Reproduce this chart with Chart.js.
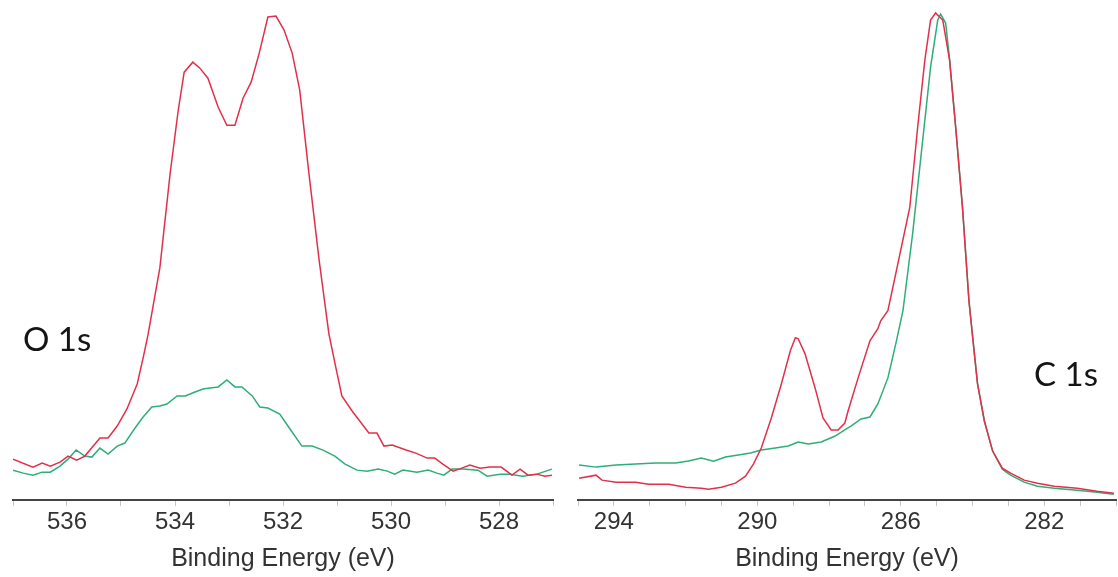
<!DOCTYPE html>
<html>
<head>
<meta charset="utf-8">
<script src="https://cdn.jsdelivr.net/npm/chart.js@4"></script>
<style>
  body { margin: 0; background: #fff; }
  #wrap { position: relative; width: 1118px; height: 577px; overflow: hidden; background: #fff; }
  .panel { position: absolute; top: 0; }
  .tag { position: absolute; font-family: Lato, "Open Sans", sans-serif; font-size: 33px; line-height: 33px; color: #151515; white-space: nowrap; }
</style>
</head>
<body>
<div id="wrap">
  <div class="panel" style="left:0px;width:560px;height:577px"><canvas id="chartO" width="560" height="577"></canvas></div>
  <div class="panel" style="left:565px;width:553px;height:577px"><canvas id="chartC" width="553" height="577"></canvas></div>
  <div class="tag" style="left:23px;top:322px">O 1s</div>
  <div class="tag" style="left:1034px;top:357px">C 1s</div>
</div>
<script>
// O 1s, red trace (binding energy eV, intensity arb.)
var o1sRedE = [537.00, 536.63, 536.46, 536.31, 536.13, 535.98, 535.82, 535.67, 535.39, 535.24,
  535.07, 534.89, 534.70, 534.59, 534.50, 534.28, 534.09, 533.94, 533.83, 533.67,
  533.54, 533.39, 533.20, 533.04, 532.89, 532.74, 532.59, 532.44, 532.28, 532.13,
  531.98, 531.83, 531.69, 531.52, 531.33, 531.15, 531.02, 530.91, 530.72, 530.41,
  530.26, 530.13, 529.98, 529.72, 529.54, 529.33, 529.19, 529.04, 528.85, 528.69,
  528.54, 528.35, 528.17, 527.96, 527.76, 527.61, 527.46, 527.30, 527.15, 527.02];
var o1sRedI = [41, 33, 37, 34, 38, 44, 40, 44, 62, 62,
  74, 91, 116, 142, 165, 232, 326, 389, 427, 437,
  431, 421, 392, 374, 374, 401, 417, 446, 482, 483,
  469, 446, 409, 326, 239, 166, 132, 104, 89, 67,
  67, 54, 55, 50, 47, 42, 42, 36, 29, 32,
  35, 32, 33, 33, 25, 31, 25, 26, 24, 25];

// O 1s, green trace
var o1sGreenE = [537.00, 536.81, 536.63, 536.46, 536.31, 536.13, 535.98, 535.83, 535.67, 535.54,
  535.39, 535.24, 535.07, 534.93, 534.74, 534.59, 534.43, 534.28, 534.15, 533.96,
  533.81, 533.63, 533.48, 533.35, 533.20, 533.04, 532.89, 532.76, 532.57, 532.43,
  532.28, 532.06, 531.87, 531.65, 531.46, 531.26, 531.04, 530.85, 530.63, 530.44,
  530.24, 530.07, 529.93, 529.78, 529.52, 529.31, 529.15, 529.02, 528.87, 528.67,
  528.39, 528.22, 527.98, 527.80, 527.56, 527.30, 527.02];
var o1sGreenI = [30, 27, 25, 28, 28, 34, 41, 50, 44, 43,
  52, 46, 54, 57, 72, 83, 93, 94, 96, 104,
  104, 108, 111, 112, 113, 120, 113, 113, 104, 93,
  92, 86, 71, 54, 54, 50, 44, 36, 30, 29,
  31, 29, 26, 30, 28, 30, 27, 25, 31, 31,
  30, 24, 26, 26, 24, 26, 31];

// C 1s, red trace
var c1sRedE = [294.97, 294.50, 294.33, 293.94, 293.39, 293.03, 292.47, 292.00, 291.56, 291.36,
  291.00, 290.61, 290.33, 290.11, 289.89, 289.61, 289.33, 289.08, 288.94, 288.86,
  288.67, 288.39, 288.17, 287.94, 287.75, 287.56, 287.47, 287.19, 286.86, 286.64,
  286.56, 286.36, 286.14, 285.75, 285.53, 285.33, 285.17, 285.03, 284.83, 284.64,
  284.47, 284.28, 284.10, 283.96, 283.86, 283.67, 283.44, 283.17, 282.94, 282.56,
  282.19, 281.72, 281.08, 280.53, 280.06];
var c1sRedI = [22, 25, 20, 18, 18, 16, 16, 13, 12, 11,
  13, 17, 24, 36, 52, 82, 116, 149, 162, 161,
  146, 112, 82, 70, 70, 77, 89, 122, 159, 171,
  179, 189, 226, 292, 372, 439, 479, 486, 479, 439,
  372, 292, 199, 150, 116, 79, 49, 32, 27, 20,
  17, 14, 12, 9, 7];

// C 1s, green trace
var c1sGreenE = [294.97, 294.50, 293.94, 293.39, 292.83, 292.28, 291.92, 291.56, 291.22, 290.89,
  290.53, 290.19, 289.89, 289.50, 289.14, 288.86, 288.58, 288.22, 287.83, 287.53,
  287.39, 287.11, 286.86, 286.64, 286.36, 286.14, 285.94, 285.67, 285.39, 285.17,
  284.97, 284.89, 284.75, 284.64, 284.47, 284.28, 284.10, 283.96, 283.86, 283.67,
  283.44, 283.17, 282.94, 282.56, 282.19, 281.72, 281.08, 280.53, 280.06];
var c1sGreenI = [35, 33, 35, 36, 37, 37, 39, 42, 39, 43,
  45, 47, 50, 52, 54, 58, 56, 58, 64, 71,
  74, 81, 83, 96, 122, 156, 189, 266, 359, 432,
  479, 485, 476, 440, 372, 292, 199, 150, 116, 79,
  49, 31, 25, 18, 14, 12, 10, 8, 6];

var redColor = '#e2304a';
var greenColor = '#2eae78';

function toPoints(xs, ys) {
    return xs.map(function (x, i) {
        return { x: x, y: ys[i] };
    });
}

function makeChart(canvasId, redE, redI, greenE, greenI, xMin, xMax, labelEvery, padRight) {
    var ctx = document.getElementById(canvasId).getContext('2d');
    return new Chart(ctx, {
        type: 'line',
        data: {
            datasets: [{
                label: 'red',
                data: toPoints(redE, redI),
                borderColor: redColor,
                borderWidth: 1.5,
                pointRadius: 0,
                tension: 0,
                fill: false
            }, {
                label: 'green',
                data: toPoints(greenE, greenI),
                borderColor: greenColor,
                borderWidth: 1.5,
                pointRadius: 0,
                tension: 0,
                fill: false
            }]
        },
        options: {
            responsive: false,
            animation: false,
            devicePixelRatio: 1,
            layout: { padding: { left: 13, right: padRight, top: 5, bottom: 3 } },
            plugins: {
                legend: { display: false },
                tooltip: { enabled: false }
            },
            scales: {
                x: {
                    type: 'linear',
                    reverse: true,
                    min: xMin,
                    max: xMax,
                    border: { display: true, color: '#444', width: 2 },
                    grid: { drawOnChartArea: false, drawTicks: true, tickLength: 6, color: '#c8c8c8' },
                    ticks: {
                        stepSize: 1,
                        autoSkip: false,
                        maxRotation: 0,
                        padding: 2,
                        color: '#333',
                        font: { family: '"Liberation Sans", Arial, sans-serif', size: 24 },
                        callback: function (v) {
                            return (Math.abs(v % labelEvery - (labelEvery === 4 ? 2 : 0)) < 1e-6) ? String(v) : '';
                        }
                    },
                    title: {
                        display: true,
                        text: 'Binding Energy (eV)',
                        color: '#333',
                        font: { family: '"Liberation Sans", Arial, sans-serif', size: 25 },
                        padding: { top: 5, bottom: 0 }
                    }
                },
                y: {
                    display: false,
                    min: 0,
                    max: 494
                }
            }
        }
    });
}

makeChart('chartO', o1sRedE, o1sRedI, o1sGreenE, o1sGreenI, 527, 537, 2, 7);
makeChart('chartC', c1sRedE, c1sRedI, c1sGreenE, c1sGreenI, 280, 295, 4, 0);
</script>
</body>
</html>
